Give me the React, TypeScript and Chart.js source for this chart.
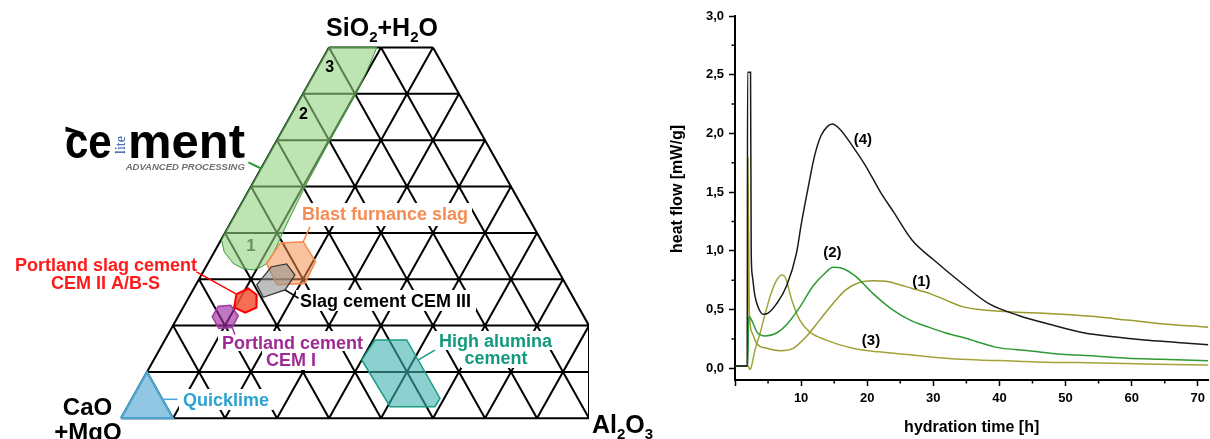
import React, { useEffect, useRef } from 'react';
import { Chart, registerables } from 'chart.js';

Chart.register(...registerables);

const FONT = "'Liberation Sans', Arial, sans-serif";
Chart.defaults.font.family = FONT;
Chart.defaults.color = '#000';

// ================= Ternary diagram data =================
// Every point is [SiO2+H2O %, Al2O3 %]; CaO+MgO is the remainder to 100 %.
const gridStep = 10;          // grid every 10 %
const gridTopSiO2 = 80;       // the diagram is truncated at 80 % SiO2+H2O
const cropFrame = [[0, 90], [20, 80]]; // right-hand crop edge of the diagram

const slagCementZone = [[80, 0], [80, 9.2], [75.2, 9.8], [70.5, 10.2], [60, 10.2], [50, 10.4], [42, 10.9], [37, 11.4], [34.6, 11.5], [33.4, 11.3], [32.6, 10.6], [32.0, 9.45], [32.3, 7.3], [33.4, 4.9], [35.9, 1.9], [38.5, 0.1], [40, 0], [80, 0]];
const blastFurnaceSlag = [[37.8, 11.7], [38.1, 16.0], [33.8, 20.5], [29.1, 20.8], [28.8, 15.6], [33.4, 11.3], [37.8, 11.7]];
const slagCementCEM3 = [[32.7, 12.6], [33.3, 15.2], [30.9, 18.0], [27.7, 17.7], [26.1, 14.3], [28.8, 11.7], [32.7, 12.6]];
const portlandSlagCEM2 = [[26.8, 8.8], [28.0, 10.5], [26.6, 12.8], [23.9, 14.1], [22.8, 12.5], [23.9, 9.8], [26.8, 8.8]];
const portlandCEM1 = [[24.2, 6.6], [24.4, 8.9], [22.1, 11.5], [19.6, 11.6], [19.4, 9.1], [21.9, 6.6], [24.2, 6.6]];
const highAluminaCement = [[16.9, 40.4], [16.9, 46.5], [4.3, 59.2], [2.5, 59.1], [2.5, 50.5], [12.6, 40.0], [16.9, 40.4]];
const quicklime = [[0, 0], [10, 0], [0, 10], [0, 0]];

const leaderLogo = [[55.2, -3.1], [53.9, 0]];
const leaderBlast = [[38.1, 16.0], [41.3, 15.7]];
const leaderCEM3 = [[27.7, 17.7], [25.9, 21.2]];
const leaderCEM2 = [[31.6, -1.3], [26.8, 8.8]];
const leaderCEM1 = [[19.6, 11.6], [18.0, 12.9]];
const leaderHAC = [[12.6, 50.9], [14.7, 53.0]];
const leaderQuick = [[4.1, 5.8], [4.1, 8.8]];

// ================= Heat-flow data: [hydration time h, heat flow mW/g] =================
const flow1 = [[0, 0.02], [1.9, 0.02], [1.95, 1.79], [2.15, 0.5], [2.6, 0.30], [3.3, 0.21], [4.8, 0.17], [6.8, 0.15], [8.8, 0.17], [10.8, 0.27], [12.8, 0.41], [14.8, 0.55], [16.8, 0.67], [18.8, 0.73], [20.8, 0.745], [22.8, 0.74], [24.4, 0.72], [26.8, 0.68], [29.3, 0.64], [31.9, 0.58], [34.4, 0.525], [36.9, 0.50], [41.9, 0.48], [49.4, 0.46], [54.4, 0.44], [59.4, 0.41], [64.4, 0.38], [71.6, 0.35]];
const flow2 = [[0, 0.02], [1.95, 0.02], [2.05, 0.44], [2.3, 0.43], [2.6, 0.40], [3.3, 0.31], [4.6, 0.275], [6.3, 0.30], [7.8, 0.37], [9.8, 0.52], [11.8, 0.70], [13.8, 0.82], [14.8, 0.86], [16.3, 0.85], [18.3, 0.78], [20.8, 0.64], [23.8, 0.50], [26.5, 0.41], [29.3, 0.35], [31.9, 0.30], [34.9, 0.255], [39.4, 0.18], [44.4, 0.15], [49.4, 0.12], [54.4, 0.105], [59.4, 0.085], [64.4, 0.077], [71.6, 0.065]];
const flow3 = [[0, 0.02], [2.0, 0.02], [2.2, -0.01], [2.4, 0.0], [3.0, 0.15], [3.8, 0.30], [4.5, 0.45], [5.3, 0.61], [6.3, 0.75], [7.1, 0.795], [7.6, 0.775], [8.6, 0.58], [9.8, 0.41], [11.3, 0.31], [13.8, 0.24], [17.8, 0.17], [21.8, 0.14], [26.8, 0.113], [31.9, 0.085], [36.9, 0.07], [41.9, 0.062], [46.9, 0.051], [51.9, 0.048], [56.9, 0.043], [61.9, 0.037], [71.6, 0.028]];
const flow4 = [[0, 0.02], [1.85, 0.02], [1.9, 2.52], [2.35, 2.52], [2.45, 1.0], [2.6, 0.80], [3.0, 0.62], [3.5, 0.52], [4.3, 0.46], [5.0, 0.47], [6.3, 0.55], [7.8, 0.70], [9.3, 0.98], [10.0, 1.22], [11.0, 1.52], [12.0, 1.80], [13.0, 1.98], [14.0, 2.06], [14.7, 2.08], [15.8, 2.04], [17.8, 1.89], [19.8, 1.72], [22.0, 1.50], [24.0, 1.33], [26.8, 1.09], [29.9, 0.93], [34.4, 0.72], [38.4, 0.55], [42.9, 0.45], [47.9, 0.37], [52.9, 0.30], [56.9, 0.27], [61.9, 0.24], [66.9, 0.22], [71.6, 0.20]];
const curveNames = ['(1)', '(2)', '(3)', '(4)'];
const curveLabelAt = [[28.2, 0.737], [14.74, 0.979], [20.57, 0.235], [19.34, 1.944]];
const xTickStep = 10;
const yTickStep = 0.5;

// ---------- helpers ----------
const toXY = (pairs: number[][]) => pairs.map(([si, al]) => ({ x: al / 100 + si / 200, y: si / 100 }));

function gridData() {
  const pts: { x: number; y: number }[] = [];
  const seg = (a: number[], b: number[]) => {
    pts.push(...toXY([a, b]));
    pts.push({ x: NaN, y: NaN });
  };
  for (let s = 0; s <= gridTopSiO2; s += gridStep) seg([s, 0], [s, 100 - s]);
  for (let a = 0; a < 100; a += gridStep) seg([0, a], [Math.min(100 - a, gridTopSiO2), a]);
  for (let c = 0; c < 100; c += gridStep) {
    const top = Math.min(100 - c, gridTopSiO2);
    seg([0, 100 - c], [top, 100 - c - top]);
  }
  seg(cropFrame[0], cropFrame[1]);
  return pts;
}

function drawParts(ctx: CanvasRenderingContext2D, parts: [string, boolean][], x: number, y: number, size: number, sub: number, align: 'left' | 'center') {
  let w = 0;
  for (const [t, s] of parts) {
    ctx.font = `bold ${s ? sub : size}px ${FONT}`;
    w += ctx.measureText(t).width;
  }
  let cx = align === 'center' ? x - w / 2 : x;
  ctx.textAlign = 'left';
  ctx.textBaseline = 'alphabetic';
  for (const [t, s] of parts) {
    ctx.font = `bold ${s ? sub : size}px ${FONT}`;
    ctx.fillText(t, cx, s ? y + size * 0.24 : y);
    cx += ctx.measureText(t).width;
  }
}

function text(ctx: CanvasRenderingContext2D, t: string, x: number, y: number, size: number, color: string, align: CanvasTextAlign = 'left') {
  ctx.font = `bold ${size}px ${FONT}`;
  ctx.fillStyle = color;
  ctx.textAlign = align;
  ctx.textBaseline = 'alphabetic';
  ctx.fillText(t, x, y);
}

// white boxes behind the labels (they hide the grid lines)
const labelBoxes = [
  [298, 203, 174, 23],
  [11, 253, 188, 21],
  [49, 274, 114, 19],
  [296, 290, 180, 21],
  [218, 331, 148, 20],
  [262, 351, 58, 19],
  [435, 331, 121, 19],
  [461, 350, 71, 18],
  [179, 389, 94, 21],
];

const ternaryPlugin = {
  id: 'ternaryText',
  afterDatasetDraw(chart: any, args: any) {
    if (chart.data.datasets[args.index].label !== 'grid') return;
    const ctx = chart.ctx as CanvasRenderingContext2D;
    ctx.save();
    ctx.fillStyle = '#fff';
    for (const [x, y, w, h] of labelBoxes) ctx.fillRect(x, y, w, h);
    text(ctx, '1', 251, 250.5, 17, '#333', 'center');
    ctx.restore();
  },
  afterDatasetsDraw(chart: any) {
    const ctx = chart.ctx as CanvasRenderingContext2D;
    ctx.save();
    ctx.fillStyle = '#000';
    drawParts(ctx, [['SiO', false], ['2', true], ['+H', false], ['2', true], ['O', false]], 382, 36, 25, 15, 'center');
    drawParts(ctx, [['Al', false], ['2', true], ['O', false], ['3', true]], 592, 433, 25, 15, 'left');
    text(ctx, 'CaO', 87.5, 415, 24, '#000', 'center');
    text(ctx, '+MgO', 88, 439.5, 24, '#000', 'center');
    text(ctx, '3', 329.7, 71.7, 16, '#000', 'center');
    text(ctx, '2', 303.5, 118.5, 16, '#000', 'center');

    text(ctx, 'Blast furnance slag', 302, 219.5, 18, '#f58c56');
    text(ctx, 'Portland slag cement', 15, 270.5, 18, '#ff1a1a');
    text(ctx, 'CEM II A/B-S', 105.5, 289, 18, '#ff1a1a', 'center');
    text(ctx, 'Slag cement CEM III', 300, 306.5, 18, '#000');
    text(ctx, 'Portland cement', 222, 348.5, 18, '#9e2a96');
    text(ctx, 'CEM I', 291, 366, 18, '#9e2a96', 'center');
    text(ctx, 'High alumina', 439, 346.5, 18, '#129a7e');
    text(ctx, 'cement', 496, 364, 18, '#129a7e', 'center');
    text(ctx, 'Quicklime', 183, 406, 18, '#2ba2cf');

    // logo
    ctx.fillStyle = '#000';
    ctx.beginPath();
    ctx.moveTo(65.5, 126.5);
    ctx.lineTo(83.5, 132.5);
    ctx.lineTo(83.5, 134);
    ctx.lineTo(65.5, 131.5);
    ctx.closePath();
    ctx.fill();
    ctx.font = `bold 48px ${FONT}`;
    ctx.textAlign = 'left';
    ctx.textBaseline = 'alphabetic';
    ctx.save(); ctx.translate(65, 158.3); ctx.scale(0.875, 1); ctx.fillText('ce', 0, 0); ctx.restore();
    ctx.save(); ctx.translate(128, 158.3); ctx.scale(1.02, 1); ctx.fillText('ment', 0, 0); ctx.restore();
    ctx.save();
    ctx.translate(124.5, 145);
    ctx.rotate(-Math.PI / 2);
    ctx.font = `14px 'Liberation Serif', serif`;
    ctx.fillStyle = '#1d4f9c';
    ctx.textAlign = 'center';
    ctx.fillText('lite', 0, 0);
    ctx.restore();
    ctx.font = `italic bold 9.5px ${FONT}`;
    ctx.fillStyle = '#707070';
    ctx.textAlign = 'left';
    ctx.fillText('ADVANCED PROCESSING', 125.7, 170);
    ctx.restore();
  },
};

function region(label: string, data: number[][], fill: string, border: string, width: number, order: number) {
  return {
    label, data: toXY(data), showLine: true, fill: 'shape', backgroundColor: fill,
    borderColor: border, borderWidth: width, pointRadius: 0, tension: 0, order,
  };
}
function leader(label: string, data: number[][], color: string, width: number) {
  return { label, data: toXY(data), showLine: true, fill: false, borderColor: color, borderWidth: width, pointRadius: 0, order: 5 };
}

function ternaryConfig(): any {
  return {
    type: 'scatter',
    data: {
      datasets: [
        { label: 'grid', data: gridData(), showLine: true, fill: false, borderColor: '#000', borderWidth: 2, pointRadius: 0, spanGaps: false, order: 100 },
        region('Slag cement zone', slagCementZone, 'rgba(147,210,130,0.6)', '#3c9a3c', 1, 90),
        region('Blast furnance slag', blastFurnaceSlag, 'rgba(244,146,82,0.55)', '#f5894a', 1.5, 80),
        region('Slag cement CEM III', slagCementCEM3, 'rgba(147,147,147,0.6)', '#333333', 1.2, 70),
        region('Portland slag cement CEM II A/B-S', portlandSlagCEM2, 'rgba(243,85,55,0.85)', '#ff0000', 2, 60),
        region('Portland cement CEM I', portlandCEM1, 'rgba(160,45,160,0.65)', '#a23ba2', 1.5, 50),
        region('High alumina cement', highAluminaCement, 'rgba(63,177,177,0.6)', '#1c9c84', 1.5, 40),
        region('Quicklime', quicklime, 'rgba(100,175,215,0.7)', '#4ba7d6', 2, 30),
        leader('l-logo', leaderLogo, '#2f9a40', 2),
        leader('l-blast', leaderBlast, '#f5894a', 1.5),
        leader('l-cem3', leaderCEM3, '#000', 1.5),
        leader('l-cem2', leaderCEM2, '#ff0000', 1.5),
        leader('l-cem1', leaderCEM1, '#a23ba2', 1.5),
        leader('l-hac', leaderHAC, '#1c9c84', 1.5),
        leader('l-quick', leaderQuick, '#4ba7d6', 1.5),
      ],
    },
    options: {
      responsive: false,
      animation: false,
      events: [],
      layout: { padding: { left: 0, top: 0, bottom: 0, right: 71 } },
      plugins: { legend: { display: false }, tooltip: { enabled: false } },
      scales: {
        x: { type: 'linear', display: false, min: -121 / 520, max: -121 / 520 + 589 / 520 },
        y: { type: 'linear', display: false, min: -(439 - 418.3) / 463.5, max: 418.3 / 463.5 },
      },
    },
    plugins: [ternaryPlugin],
  };
}

const heatPlugin = {
  id: 'heatExtras',
  afterDraw(chart: any) {
    const ctx = chart.ctx as CanvasRenderingContext2D;
    const xs = chart.scales.x;
    const ys = chart.scales.y;
    const area = chart.chartArea;
    ctx.save();
    ctx.strokeStyle = '#000';
    ctx.lineWidth = 1.5;
    ctx.beginPath();
    for (let v = xTickStep / 2; v < xs.max; v += xTickStep) {
      const p = xs.getPixelForValue(v);
      ctx.moveTo(p, area.bottom);
      ctx.lineTo(p, area.bottom + 3.5);
    }
    for (let v = yTickStep / 2; v < ys.max; v += yTickStep) {
      const p = ys.getPixelForValue(v);
      ctx.moveTo(area.left, p);
      ctx.lineTo(area.left - 3.5, p);
    }
    ctx.stroke();
    ctx.fillStyle = '#000';
    ctx.font = `bold 15px ${FONT}`;
    ctx.textAlign = 'center';
    ctx.textBaseline = 'middle';
    curveNames.forEach((n, i) => {
      ctx.fillText(n, xs.getPixelForValue(curveLabelAt[i][0]), ys.getPixelForValue(curveLabelAt[i][1]));
    });
    ctx.textBaseline = 'alphabetic';
    ctx.font = `bold 16px ${FONT}`;
    ctx.fillText('hydration time [h]', (area.left + area.right) / 2, 432);
    ctx.save();
    ctx.translate(21.5, 189);
    ctx.rotate(-Math.PI / 2);
    ctx.fillText('heat flow [mW/g]', 0, 0);
    ctx.restore();
    ctx.restore();
  },
};

function curve(label: string, data: number[][], color: string) {
  return {
    label, data: data.map(([x, y]) => ({ x, y })), showLine: true, borderColor: color, borderWidth: 1.5,
    pointRadius: 0, cubicInterpolationMode: 'monotone', fill: false,
  };
}

function heatConfig(): any {
  const tickFont = { family: FONT, size: 13, weight: 'bold' };
  return {
    type: 'scatter',
    data: {
      datasets: [
        curve(curveNames[3], flow4, '#1a1a1a'),
        curve(curveNames[1], flow2, '#2e9a34'),
        curve(curveNames[0], flow1, '#9b9b2e'),
        curve(curveNames[2], flow3, '#a3a33a'),
      ],
    },
    options: {
      responsive: false,
      animation: false,
      events: [],
      layout: { padding: { left: 0, top: 16, right: 0, bottom: 0 } },
      plugins: { legend: { display: false }, tooltip: { enabled: false } },
      scales: {
        x: {
          type: 'linear', min: 0, max: 71.6,
          afterFit: (s: any) => { s.height = 59; },
          ticks: {
            stepSize: xTickStep, includeBounds: false, autoSkip: false, maxRotation: 0, padding: 5,
            color: '#000', font: tickFont, callback: (v: number) => (v === 0 ? '' : String(v)),
          },
          grid: { drawOnChartArea: false, tickLength: 6, tickColor: '#000', tickWidth: 1.5 },
          border: { display: true, color: '#000', width: 2 },
        },
        y: {
          type: 'linear', min: -0.1, max: 3,
          afterFit: (s: any) => { s.width = 75; },
          ticks: {
            stepSize: yTickStep, includeBounds: false, autoSkip: false, padding: 5,
            color: '#000', font: tickFont, callback: (v: number) => Number(v).toFixed(1).replace('.', ','),
          },
          grid: { drawOnChartArea: false, tickLength: 6, tickColor: '#000', tickWidth: 1.5 },
          border: { display: true, color: '#000', width: 2 },
        },
      },
    },
    plugins: [heatPlugin],
  };
}

export default function App() {
  const triRef = useRef<HTMLCanvasElement>(null);
  const heatRef = useRef<HTMLCanvasElement>(null);
  useEffect(() => {
    const c1 = new Chart(triRef.current as HTMLCanvasElement, ternaryConfig());
    const c2 = new Chart(heatRef.current as HTMLCanvasElement, heatConfig());
    return () => {
      c1.destroy();
      c2.destroy();
    };
  }, []);
  return (
    <div style={{ position: 'fixed', left: 0, top: 0, width: 1210, height: 439, background: '#fff', overflow: 'hidden' }}>
      <canvas ref={triRef} width={660} height={439} style={{ position: 'absolute', left: 0, top: 0, width: 660, height: 439 }} />
      <canvas ref={heatRef} width={550} height={439} style={{ position: 'absolute', left: 660, top: 0, width: 550, height: 439 }} />
    </div>
  );
}
